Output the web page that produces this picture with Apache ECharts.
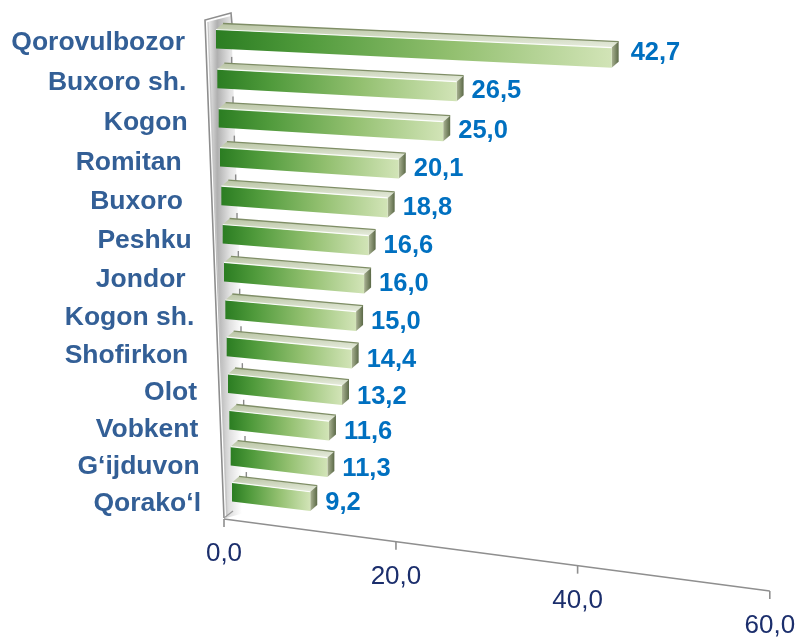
<!DOCTYPE html>
<html><head><meta charset="utf-8">
<script src="https://cdn.jsdelivr.net/npm/echarts@6/dist/echarts.min.js"></script>
<style>html,body{margin:0;padding:0;background:#fff}#c{width:798px;height:639px}</style>
</head><body><div id="c"></div>
<script>
// ---- data ----
const categories = ['Qorovulbozor','Buxoro sh.','Kogon','Romitan ','Buxoro ','Peshku','Jondor ','Kogon sh.','Shofirkon ','Olot','Vobkent','G‘ijduvon','Qorako‘l'];
const values = [42.7, 26.5, 25.0, 20.1, 18.8, 16.6, 16.0, 15.0, 14.4, 13.2, 11.6, 11.3, 9.2];
const valueLabels = ['42,7','26,5','25,0','20,1','18,8','16,6','16,0','15,0','14,4','13,2','11,6','11,3','9,2'];
const axisTicks = [0, 20, 40, 60];
const axisTickLabels = ['0,0','20,0','40,0','60,0'];

// ---- perspective helpers (style/geometry only) ----
const FONT = "'Liberation Sans', Arial, Helvetica, sans-serif";
const PERSP = -0.001334;     // foreshortening along value axis
const SLOPE = 0.36;          // vertical drift of bars along value axis
const AXIS_SLOPE = 0.412;    // vertical drift of floor edge
const DEPTH = [7, -6];       // 3D depth offset of the boxes
const HALF = 9.5;            // half height of bar front face
const ROWS = categories.length - 1;

function rowIndex(cs, ycl) { return (ycl - (cs.y + 19)) / 38; }
function rowY(cs, ii) { return cs.y + 19 + 39.9 * ii - 0.18 * ii * ii; }
function warpBar(cs, v, xl, ycl, dy) {
  const ii = rowIndex(cs, ycl);
  const t = ii / ROWS;
  const w = 1 + PERSP * v;
  const x = (cs.x + 16 * t + (xl - cs.x) * (1 - 0.0426 * t)) / w;
  const y = (rowY(cs, ii) + dy + SLOPE * v) / w;
  return [x, y];
}
function warpAxis(cs, v, xl) {
  const w = 1 + PERSP * v;
  return [(cs.x + 8 + (xl - cs.x) * 0.955) / w, (cs.y + cs.height + 5 + AXIS_SLOPE * v) / w];
}
function wallX(cs, y) { return cs.x - 11 + (y - cs.y) * 19 / 498; }
const addD = p => [p[0] + DEPTH[0], p[1] + DEPTH[1]];

function renderWall(params, api) {
  const cs = params.coordSys;
  const yTop = cs.y, yBot = cs.y + cs.height + 4;
  const children = [];
  children.push({
    type: 'polygon',
    shape: { points: [[wallX(cs, yTop) + 2, yTop + 2], [wallX(cs, yTop) + 26, yTop - 4], [wallX(cs, yBot) + 24, yBot - 6], [wallX(cs, yBot) + 2, yBot]] },
    style: { fill: { type: 'linear', x: 0, y: 0, x2: 1, y2: 0, colorStops: [
      { offset: 0, color: '#f4f4f4' }, { offset: 0.25, color: '#b0b0b0' }, { offset: 0.55, color: '#e0e0e0' }, { offset: 0.85, color: '#ffffff' }, { offset: 1, color: '#ffffff' }] } }
  });
  children.push({
    type: 'polyline',
    shape: { points: [[wallX(cs, yBot), yBot], [wallX(cs, yTop), yTop], [wallX(cs, yTop) + 26, yTop - 7], [wallX(cs, yTop) + 27, yTop + 4]] },
    style: { stroke: '#8e8e8e', lineWidth: 1.6, fill: null }
  });
  children.push({
    type: 'line',
    shape: { x1: wallX(cs, yTop) + 3, y1: yTop + 2, x2: wallX(cs, yBot) + 3, y2: yBot - 3 },
    style: { stroke: '#c4c4c4', lineWidth: 1 }
  });
  children.push({
    type: 'line',
    shape: { x1: wallX(cs, yBot), y1: yBot, x2: wallX(cs, yBot) + 9, y2: yBot - 7 },
    style: { stroke: '#9a9a9a', lineWidth: 1.2 }
  });
  for (let i = 0; i < categories.length - 1; i++) {
    const c = api.coord([0, i]);
    const p = warpBar(cs, 0, c[0], c[1] + 19, 0);
    children.push({ type: 'line', shape: { x1: p[0] + 15, y1: p[1] - 2, x2: p[0] + 15, y2: p[1] + 6 }, style: { stroke: '#8a8a8a', lineWidth: 1.4 } });
  }
  return { type: 'group', children };
}

function renderBar(params, api) {
  const cs = params.coordSys;
  const v = api.value(0), i = api.value(1);
  const c0 = api.coord([0, i]), c1 = api.coord([v, i]);
  const yc = c0[1];
  const t = i / ROWS;
  const TL = warpBar(cs, 0, c0[0], yc, -HALF), TR = warpBar(cs, v, c1[0], yc, -HALF);
  const BR = warpBar(cs, v, c1[0], yc, HALF), BL = warpBar(cs, 0, c0[0], yc, HALF);
  const MID = warpBar(cs, v, c1[0], yc, 0);
  const L = warpBar(cs, 0, c0[0], yc, 0);
  const first = i === 0;
  const labelDx = first ? 12 : 8;
  const labelDy = -1 + 0.26 * i - (first ? 4 : 0);
  return {
    type: 'group',
    children: [
      { type: 'polygon', shape: { points: [TL, TR, addD(TR), addD(TL)] },
        style: { fill: { type: 'linear', x: 0, y: 1, x2: 0, y2: 0, colorStops: [
          { offset: 0, color: '#e6ecdc' }, { offset: 1, color: '#b9c4a4' }] } } },
      { type: 'polyline', shape: { points: [addD(TL), addD(TR)] },
        style: { stroke: '#7f8e66', lineWidth: 1.3, fill: null } },
      { type: 'polygon', shape: { points: [TR, addD(TR), addD(BR), BR] },
        style: { fill: { type: 'linear', x: 0, y: 0, x2: 1, y2: 0, colorStops: [
          { offset: 0, color: '#aab393' }, { offset: 1, color: '#5b6947' }] } } },
      { type: 'polygon', shape: { points: [TL, TR, BR, BL] },
        style: { fill: { type: 'linear', x: 0, y: 0, x2: 1, y2: 0, colorStops: [
          { offset: 0, color: '#2b7d22' }, { offset: 0.22, color: '#4f9a3b' },
          { offset: 0.6, color: '#93c070' }, { offset: 1, color: '#d2e4b7' }] } } },
      { type: 'polyline', shape: { points: [TL, TR] },
        style: { stroke: 'rgba(255,255,255,0.95)', lineWidth: 1.2, fill: null } },
      { type: 'text', x: MID[0] + DEPTH[0] + labelDx, y: MID[1] + labelDy,
        style: { text: valueLabels[i], fill: '#0070c0', font: 'bold 25.5px ' + FONT, align: 'left', verticalAlign: 'middle' } },
      { type: 'text', x: L[0] - 31, y: L[1] + 3.5 + 8 * t,
        style: { text: categories[i], fill: '#335f96', font: 'bold 26.5px ' + FONT, align: 'right', verticalAlign: 'middle' } }
    ]
  };
}

function renderAxis(params, api) {
  const cs = params.coordSys;
  const v = api.value(0), i = api.value(1);
  const p = warpAxis(cs, v, api.coord([v, i])[0]);
  const children = [];
  if (params.dataIndex === 0) {
    const vEnd = axisTicks[axisTicks.length - 1];
    const e = warpAxis(cs, vEnd, api.coord([vEnd, i])[0]);
    children.push({ type: 'line', shape: { x1: p[0], y1: p[1], x2: e[0], y2: e[1] }, style: { stroke: '#8f8f8f', lineWidth: 1.6 } });
  }
  children.push({ type: 'line', shape: { x1: p[0], y1: p[1], x2: p[0], y2: p[1] + 8 }, style: { stroke: '#8f8f8f', lineWidth: 1.6 } });
  children.push({ type: 'text', x: p[0], y: p[1] + 35,
    style: { text: axisTickLabels[params.dataIndex], fill: '#1b2e6c', font: '26px ' + FONT, align: 'center', verticalAlign: 'middle' } });
  return { type: 'group', children };
}

const chart = echarts.init(document.getElementById('c'), null, { renderer: 'canvas' });
chart.setOption({
  animation: false,
  backgroundColor: '#ffffff',
  grid: { left: 216, right: 75, top: 20, bottom: 125 },
  xAxis: { type: 'value', min: 0, max: 60, interval: 20, show: false },
  yAxis: { type: 'category', data: categories, inverse: true, show: false },
  series: [
    { type: 'custom', clip: false, z: 1, renderItem: renderWall, data: [[0, 0]] },
    { type: 'custom', clip: false, z: 2, renderItem: renderBar, data: values.map((v, i) => [v, i]) },
    { type: 'custom', clip: false, z: 3, renderItem: renderAxis, data: axisTicks.map(t => [t, categories.length - 1]) }
  ]
});
</script>
</body></html>
